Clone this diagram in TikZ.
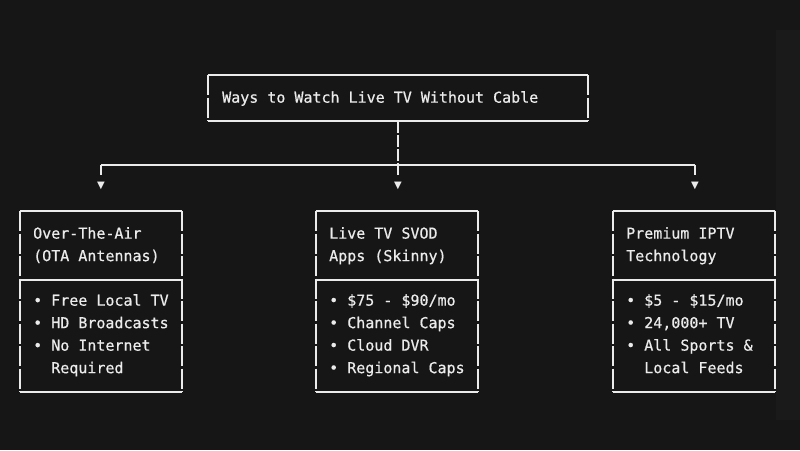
\documentclass[tikz,border=0pt]{standalone}
\usepackage{fontspec}
\setmonofont[FakeBold=0.6]{DejaVu Sans Mono}
\newfontfamily\symf{DejaVu Sans}
\begin{document}
\begin{tikzpicture}[x=1pt,y=-1pt,
  txt/.style={font=\ttfamily\fontsize{15}{22.5}\selectfont,text=white!92!black,align=left,anchor=north west,inner sep=0},
  edge/.style={draw=white!92!black,line width=1.3pt},
  side/.style={edge,dash pattern=on 20pt off 2.5pt},
  conn/.style={draw=white!92!black,line width=1.3pt},
  tip/.style={font=\symf\fontsize{10}{10}\selectfont,text=white!92!black,inner sep=0}]
\fill[fill={rgb,255:red,22;green,22;blue,22}] (0,0) rectangle (800,450);
\fill[fill={rgb,255:red,26;green,26;blue,26}] (776,30) rectangle (800,420);
\useasboundingbox (0,0) rectangle (800,450);
% title
\draw[edge] (208,75) -- (588,75) (208,121) -- (588,121);
\draw[side] (208,75) -- (208,121) (588,75) -- (588,121);
\node[txt] (title) at (222,91) {Ways to Watch Live TV Without Cable};
\coordinate (tb) at (398,121);
\coordinate (hub) at (398,165);
\coordinate (hl) at (101,165);
\coordinate (hr) at (695,165);
\node[tip] (a1) at (101,186) {▼};
\node[tip] (a2) at (398,186) {▼};
\node[tip] (a3) at (695,186) {▼};
\draw[conn,dash pattern=on 12pt off 2pt] (tb) -- (hub);
\draw[conn] (hl) -- (hr);
\draw[conn] (hl) -- ++(0,10);
\draw[conn] (hub) -- ++(0,10);
\draw[conn] (hr) -- ++(0,10);
% boxes
\foreach \x/\n in {20/b1,316/b2,613/b3}{
  \draw[edge] (\x,211) -- ++(162,0) (\x,280) -- ++(162,0) (\x,392) -- ++(162,0);
  \draw[side] (\x,211) -- (\x,392) (\x+162,211) -- (\x+162,392);
}
\node[txt] (h1) at (33,227) {Over-The-Air\\(OTA Antennas)};
\node[txt] (h2) at (329,227) {Live TV SVOD\\Apps (Skinny)};
\node[txt] (h3) at (626,227) {Premium IPTV\\Technology};
\node[txt] (l1) at (33,294) {• Free Local TV\\• HD Broadcasts\\• No Internet\\\ \ Required};
\node[txt] (l2) at (329,294) {• \$75 - \$90/mo\\• Channel Caps\\• Cloud DVR\\• Regional Caps};
\node[txt] (l3) at (626,294) {• \$5 - \$15/mo\\• 24,000+ TV\\• All Sports \&\\\ \ Local Feeds};
\end{tikzpicture}
\end{document}
